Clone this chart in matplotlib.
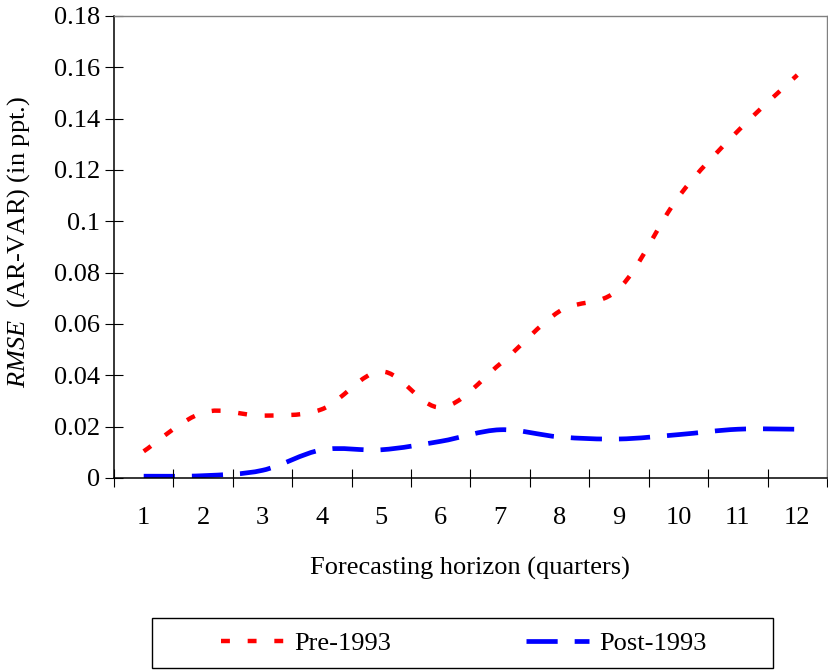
import numpy as np
import matplotlib
matplotlib.use('Agg')
import matplotlib.pyplot as plt
from matplotlib.path import Path
from matplotlib.patches import PathPatch, Rectangle
from matplotlib.lines import Line2D

plt.rcParams['font.family'] = ['Liberation Serif', 'DejaVu Serif']
plt.rcParams['mathtext.fontset'] = 'custom'
plt.rcParams['mathtext.rm'] = 'Liberation Serif'
plt.rcParams['mathtext.it'] = 'Liberation Serif:italic'

horizon = [1, 2, 3, 4, 5, 6, 7, 8, 9, 10, 11, 12]
pre_1993 = [0.0104, 0.0255, 0.0243, 0.0268, 0.0415, 0.0275, 0.0445, 0.0650, 0.0738, 0.1095, 0.1352, 0.1570]
post_1993 = [0.0007, 0.0009, 0.0030, 0.0110, 0.0110, 0.0143, 0.0188, 0.0160, 0.0152, 0.0169, 0.0190, 0.0190]
ytick_vals = [0, 0.02, 0.04, 0.06, 0.08, 0.1, 0.12, 0.14, 0.16, 0.18]
ytick_labels = ['0', '0.02', '0.04', '0.06', '0.08', '0.1', '0.12', '0.14', '0.16', '0.18']

FS = 19


def smooth_path(x, y):
    # excel style smoothed line: cubic bezier through every point
    pts = np.column_stack([x, y]).astype(float)
    ext = np.vstack([pts[0], pts, pts[-1]])
    verts = [pts[0]]
    codes = [Path.MOVETO]
    for i in range(len(pts) - 1):
        p0, p1, p2, p3 = ext[i], ext[i + 1], ext[i + 2], ext[i + 3]
        verts += [p1 + (p2 - p0) / 6, p2 - (p3 - p1) / 6, p2]
        codes += [Path.CURVE4] * 3
    return Path(verts, codes)


fig = plt.figure(figsize=(8.29, 6.71), dpi=100)
ax = fig.add_axes([114 / 829, 1 - 478 / 671, 713 / 829, 462 / 671])

red_lw, blue_lw = 3.2, 3.4
red_ls = (0, (2.0, 4.0))
blue_ls = (0, (6.6, 3.6))

ax.add_patch(PathPatch(smooth_path(horizon, pre_1993), fill=False, edgecolor='#ff0000',
                       lw=red_lw, linestyle=red_ls, capstyle='butt'))
ax.add_patch(PathPatch(smooth_path(horizon, post_1993), fill=False, edgecolor='#0000ff',
                       lw=blue_lw, linestyle=blue_ls, capstyle='butt'))

ax.set_xlim(0.5, 12.5)
ax.set_ylim(0, 0.18)

ax.set_xticks(np.arange(0.5, 13, 1))
ax.set_xticklabels([])
ax.set_xticks(horizon, minor=True)
ax.set_xticklabels([str(h) for h in horizon], minor=True, fontsize=FS)
ax.tick_params(axis='x', which='minor', length=0, pad=21)
ax.tick_params(axis='x', which='major', direction='inout', length=12.5, width=0.8)

ax.set_yticks(ytick_vals)
ax.set_yticklabels(ytick_labels, fontsize=FS)
ax.tick_params(axis='y', direction='inout', length=12.5, width=0.8, pad=4)

for s in ['left', 'bottom']:
    ax.spines[s].set_color('black')
    ax.spines[s].set_linewidth(1.1)
for s in ['top', 'right']:
    ax.spines[s].set_color('#808080')
    ax.spines[s].set_linewidth(1.0)

fig.text(470 / 829, 1 - 568 / 671, 'Forecasting horizon (quarters)', fontsize=FS,
         ha='center', va='center')
fig.text(19 / 829, 1 - 242 / 671, r'$RMSE$  (AR-VAR) (in ppt.)', fontsize=FS,
         ha='center', va='center', rotation=90)

# legend box drawn separately so the padding matches the original
fig.patches.append(Rectangle((152 / 829, 1 - 668 / 671), 621 / 829, 50 / 671,
                             transform=fig.transFigure, fill=False,
                             edgecolor='black', lw=1.0))
handles = [Line2D([], [], color='#ff0000', lw=red_lw, linestyle=red_ls),
           Line2D([], [], color='#0000ff', lw=blue_lw, linestyle=blue_ls)]
leg = fig.legend(handles, ['Pre-1993', 'Post-1993'], loc='center',
                 bbox_to_anchor=(464 / 829, 1 - 643 / 671),
                 ncol=2, fontsize=FS, frameon=False,
                 handlelength=2.4, handletextpad=0.38, columnspacing=5.1)

fig.savefig('out.png', dpi=100)
